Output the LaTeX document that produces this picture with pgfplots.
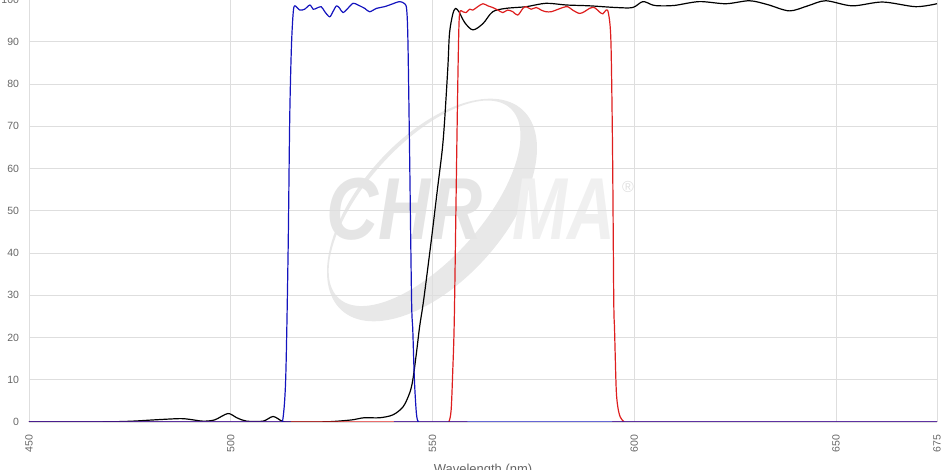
\documentclass[border=0pt]{standalone}
\usepackage{fontspec}
\setmainfont{Liberation Sans}
\usepackage{pgfplots}
\pgfplotsset{compat=1.18}
\definecolor{tickgray}{HTML}{666666}
\definecolor{exblue}{RGB}{20,20,190}
\definecolor{emred}{RGB}{222,30,30}
\begin{document}
\begin{tikzpicture}
% watermark (behind the grid), axis south west sits at the origin
\begin{scope}[shift={(403pt,212pt)}, rotate=48]
  \fill[black!9, even odd rule] (0,0) ellipse [x radius=135pt, y radius=72pt]
    (0,10pt) ellipse [x radius=128pt, y radius=58pt];
\end{scope}
\node[anchor=base west, inner sep=0, text=black!10, xscale=0.82,
      font=\fontsize{88}{88}\selectfont\bfseries\itshape] at (297pt,182pt) {CHR};
\node[anchor=base west, inner sep=0, text=black!6, xscale=0.75,
      font=\fontsize{88}{88}\selectfont\bfseries\itshape] at (483pt,182pt) {MA};
\node[inner sep=0, text=black!12, font=\fontsize{16}{16}\selectfont] at (599pt,235pt) {®};

\begin{axis}[
  scale only axis,
  width=908pt, height=422.5pt,
  xmin=450, xmax=675, ymin=0, ymax=100,
  xtick={450,500,550,600,650,675},
  ytick={0,10,...,100},
  grid=major,
  grid style={black!13, line width=0.8pt},
  axis line style={draw=none},
  major tick length=0pt,
  tick label style={font=\fontsize{10.5}{12}\selectfont, text=tickgray},
  /pgf/number format/assume math mode=true,
  xticklabel style={rotate=90, anchor=east},
  xticklabel shift=9.5pt,
  yticklabel shift=6.5pt,
  xlabel={Wavelength (nm)},
  xlabel style={at={(axis description cs:0.5,0)}, anchor=north, yshift=-39pt,
                font=\fontsize{13}{15}\selectfont, text=tickgray},
  every axis plot/.append style={line width=1.2pt, line join=round,
                                 smooth, tension=0.5},
]

%% long-pass dichroic
\addplot[black] coordinates {
  (450,0) (460,0) (470,0.05) (475.7,0.2) (481,0.5) (487.4,0.8) (490,0.6) (493.1,0.2)
  (496,0.5) (499.3,2.0) (501.5,1.0) (503.9,0.2) (508.0,0.2) (510.5,1.3)
  (512.9,0.1) (515,0) (520,0) (525,0.1) (530,0.5) (533,1.0) (536.9,1.0) (540.2,1.7)
  (542.7,3.6) (544.3,6.8) (545.1,9.9) (546.0,16.3) (546.8,22.6) (547.8,28.9)
  (549.7,43.1) (551.2,55) (552.4,64.4) (553.0,71.5) (553.8,84.1) (554.2,92) (555.0,96.5)
  (555.7,97.9) (556.6,97.0) (558,94.5) (560.0,92.8) (562.5,94.3) (564.9,97.1)
  (568.2,97.9) (573.2,98.3) (578.1,99.1) (583.1,98.7) (588.9,98.5) (595.5,98.1)
  (599.6,98.1) (602.1,99.5) (604.5,98.7) (606.2,98.5) (610,98.6) (616.1,99.5)
  (622.7,99.0) (628.5,99.7) (633,98.8) (638.4,97.3) (643,98.5) (647.4,99.7)
  (654.0,98.5) (661.5,99.4) (669.7,98.3) (675,99.0)
};

%% emission filter
\addplot[emred] coordinates {
  (450,0) (552,0) (553,0) (554.0,0) (554.6,2.8) (555.0,12) (555.4,25) (556.0,64.4) (556.4,88)
  (556.7,96.7) (557.5,97.1) (558.3,96.9) (559.2,97.7) (560.0,97.5) (561.2,98.3)
  (562.5,99.0) (563.7,98.5) (564.9,98.1) (566.2,97.5) (567.4,96.9) (568.6,97.5)
  (569.9,97.1) (571.1,96.3) (572.4,97.9) (573.2,98.3) (574.4,97.7) (575.7,98.1)
  (576.9,97.5) (578.1,97.1) (579.4,97.1) (580.6,97.5) (582.3,98.1) (583.5,98.3)
  (584.7,97.5) (586.4,96.7) (587.6,97.1) (588.9,97.9) (590.1,98.1) (591.3,97.1)
  (592.2,96.6) (593.0,97.5) (593.6,96.7) (594.2,90) (594.6,64.4) (594.9,28.9)
  (595.1,21.8) (595.5,8) (595.9,3.6) (596.5,1.2) (597.5,0) (598.5,0) (599.5,0) (675,0)
};

%% excitation filter
\addplot[exblue] coordinates {
  (450,0) (510.8,0) (511.8,0) (512.8,0) (513.6,10) (514.2,40) (514.6,71.5) (515.0,88) (515.4,96)
  (515.8,98.5) (517.1,97.5) (518.3,97.7) (519.6,98.7) (520.4,97.7) (521.2,97.9)
  (522.4,98.3) (523.3,97.1) (524.5,95.9) (525.3,97.1) (526.2,98.5) (527.0,97.9)
  (527.8,96.9) (529.0,97.9) (530.3,99.1) (531.5,98.7) (533.2,97.9) (534.4,97.1)
  (536.1,97.9) (538.1,98.3) (540.2,99.0) (541.8,99.5) (543.1,99.0) (543.6,97.5)
  (543.9,90) (544.3,64.4) (544.8,28.9) (545.1,21.8) (545.5,10) (546,2)
  (546.5,0) (547.5,0) (548.5,0) (675,0)
};

\end{axis}
\pgfresetboundingbox
\path[use as bounding box] (-29pt,-48pt) rectangle (922pt,422pt);
\end{tikzpicture}
\end{document}
